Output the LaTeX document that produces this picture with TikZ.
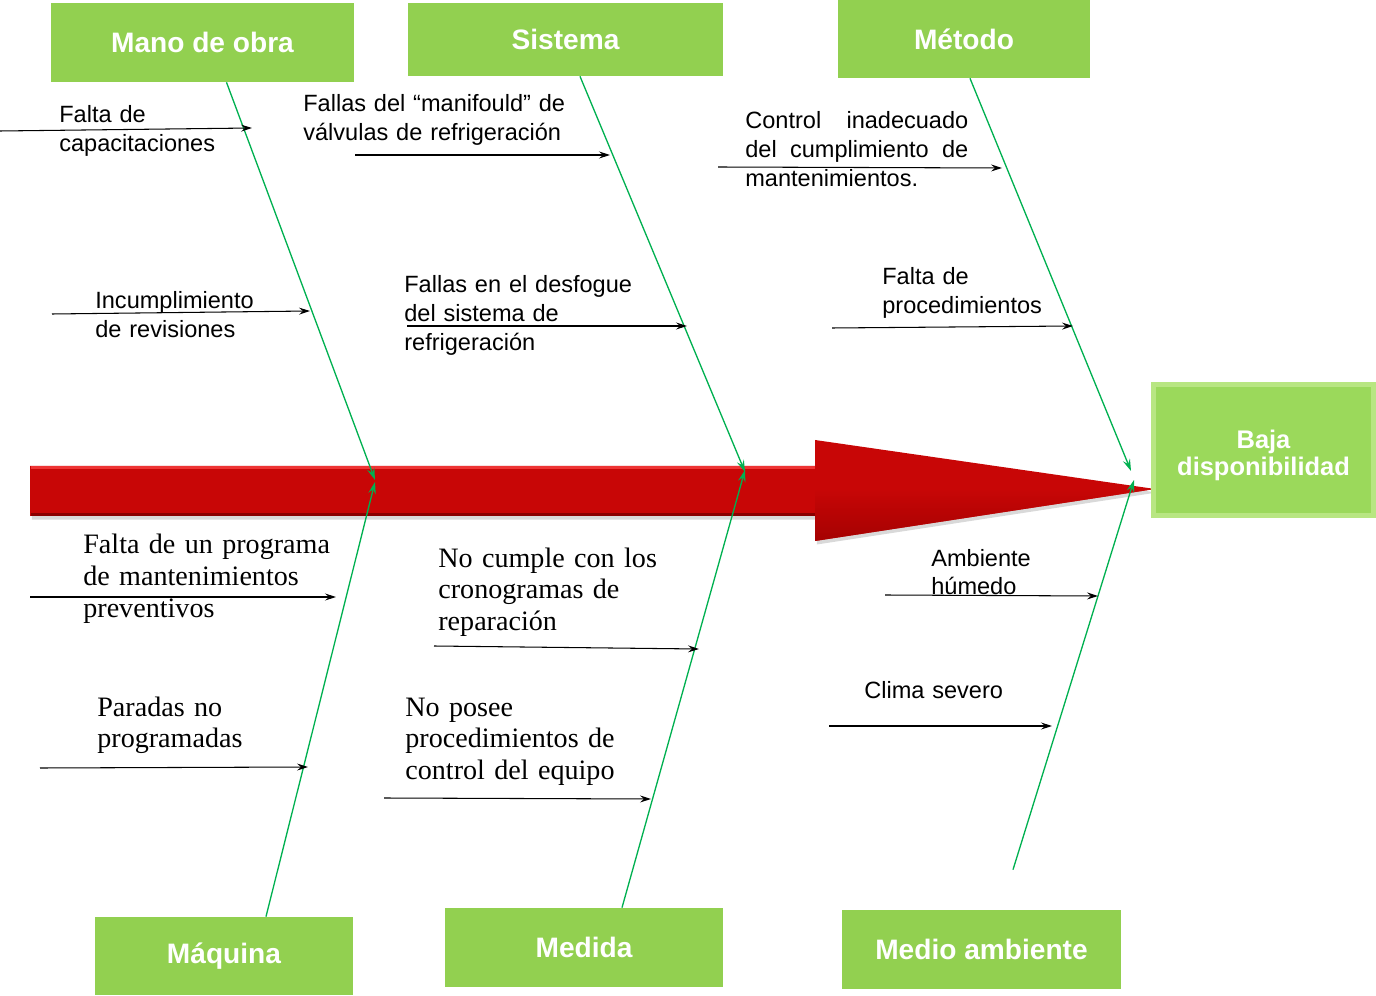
\documentclass[tikz,border=0pt]{standalone}
\usepackage{fontspec}
\setmainfont{Liberation Sans}
\newfontfamily\serifcause{Liberation Serif}
\usepackage{tikz}
\usetikzlibrary{arrows.meta,positioning,shadows,calc}
\definecolor{boxgreen}{HTML}{92D050}
\definecolor{bonegreen}{HTML}{00B050}
\definecolor{spinered}{HTML}{C80606}
\definecolor{spinelight}{HTML}{EE3434}
\definecolor{spinedark}{HTML}{8A0000}
\definecolor{effectgreen}{HTML}{9BD95B}
\definecolor{effectrim}{HTML}{B8E682}
\definecolor{ink}{HTML}{000000}
\tikzset{
  catbox/.style={fill=boxgreen,text=white,inner sep=0pt,align=center,
                 font=\fontsize{16}{19}\selectfont\bfseries},
  effectbox/.style={fill=effectgreen,draw=effectrim,line width=2.5pt,
                    text=white,inner sep=0pt,align=center,
                    font=\fontsize{14.5}{15.4}\selectfont\bfseries,
                    drop shadow={opacity=0.35,shadow xshift=1.5pt,shadow yshift=-1.5pt}},
  causetxt/.style={anchor=base west,inner sep=0pt,text width=7cm,align=left,
                   font=\fontsize{13.4}{16.4}\selectfont},
  causeserif/.style={causetxt,font=\serifcause\fontsize{16}{18.1}\selectfont},
  causearr/.style={-{Stealth[length=2.2mm,width=1.4mm,inset=0.8mm]},line width=0.6pt,color=ink},
  bone/.style={-{Stealth[length=2.4mm,width=1.5mm,inset=0.9mm]},line width=0.75pt,color=bonegreen}
}

\begin{document}
\begin{tikzpicture}[x=0.02cm,y=-0.02cm]
  \useasboundingbox (0,0) rectangle (1376,996);

  % spine: the big red arrow
  \fill[spinered,drop shadow={opacity=0.3,shadow xshift=1pt,shadow yshift=-2pt}]
    (30,466) -- (815,466) -- (815,440) -- (1155,489) -- (815,541)
    -- (815,516) -- (30,516) -- cycle;
  \shade[top color=spinered,bottom color=spinedark!70!spinered,opacity=0.8]
    (815,489) -- (1155,489) -- (815,541) -- cycle;
  \draw[spinelight,line width=1.2pt] (31,467.5) -- (815,467.5);
  \draw[spinedark,line width=1.2pt] (31,514.5) -- (815,514.5);

  % category boxes
  \node[catbox,minimum width=6.06cm,minimum height=1.58cm] (mano) at (202.5,42.5) {Mano de obra};
  \node[catbox,minimum width=6.30cm,minimum height=1.46cm] (sistema) at (565.5,39.5) {Sistema};
  \node[catbox,minimum width=5.04cm,minimum height=1.56cm] (metodo) at (964,39) {Método};
  \node[catbox,minimum width=5.16cm,minimum height=1.56cm] (maquina) at (224,956) {Máquina};
  \node[catbox,minimum width=5.56cm,minimum height=1.58cm] (medida) at (584,947.5) {Medida};
  \node[catbox,minimum width=5.58cm,minimum height=1.58cm] (medioamb) at (981.5,949.5) {Medio ambiente};
  \node[effectbox,minimum width=4.40cm,minimum height=2.62cm] (baja) at (1263.5,450)
    {\rule{0pt}{16.5pt}Baja\\disponibilidad};

  % bones meeting the spine
  \coordinate (j1up) at (375,480);
  \coordinate (j1dn) at (375,482);
  \coordinate (j2up) at (745,472);
  \coordinate (j2dn) at (745,470);
  \coordinate (j3up) at (1131,471);
  \coordinate (j3dn) at (1134,480);
  \draw[bone] ([xshift=0.48cm]mano.south) -- (j1up);
  \draw[bone] ([xshift=0.84cm]maquina.north) -- (j1dn);
  \draw[bone] ([xshift=0.29cm]sistema.south) -- (j2up);
  \draw[bone] ([xshift=0.76cm]medida.north) -- (j2dn);
  \draw[bone] ([xshift=0.12cm]metodo.south) -- (j3up);
  \draw[bone] ([xshift=0.63cm,yshift=0.8cm]medioamb.north) -- (j3dn);

  % cause labels
  \node[causetxt] (capac) at (59,123) {Falta de\\capacitaciones};
  \node[causetxt] (revis) at (95,309) {Incumplimiento\\de revisiones};
  \node[causetxt] (manif) at (303,112) {Fallas del “manifould” de\\válvulas de refrigeración};
  \node[causetxt] (desfog) at (404,293) {Fallas en el desfogue\\del sistema de\\refrigeración};
  \node[causetxt,text width=4.46cm,align=justify] (control) at (745,129)
    {Control inadecuado del cumplimiento de mantenimientos.};
  \node[causetxt] (proced) at (882,285) {Falta de\\procedimientos};
  \node[causeserif] (progprev) at (83,554) {Falta de un programa\\de mantenimientos\\preventivos};
  \node[causeserif] (paradas) at (97,716) {Paradas no\\programadas};
  \node[causeserif] (cronog) at (438,567) {No cumple con los\\cronogramas de\\reparación};
  \node[causeserif] (procctrl) at (405,716) {No posee\\procedimientos de\\control del equipo};
  \node[causetxt] (humedo) at (931,566) {Ambiente\\húmedo};
  \node[causetxt] (clima) at (864,698) {Clima severo};

  % cause arrows
  \foreach \nm/\ax/\ay/\bx/\by in {capac/0/131/252/128, revis/52/314/310/311,
      manif/355/155/610/155, desfog/407/326/687/326, control/718/167/1002/168,
      proced/832/328/1073/326, progprev/30/597/336/597, paradas/40/768/308/767,
      cronog/434/646/699/649, procctrl/384/798/651/799, humedo/885/595/1098/596,
      clima/829/726/1052/726} {
    \coordinate (\nm-a) at (\ax,\ay);
    \coordinate (\nm-b) at (\bx,\by);
    \draw[causearr] (\nm-a) -- (\nm-b);
  }
\end{tikzpicture}
\end{document}
